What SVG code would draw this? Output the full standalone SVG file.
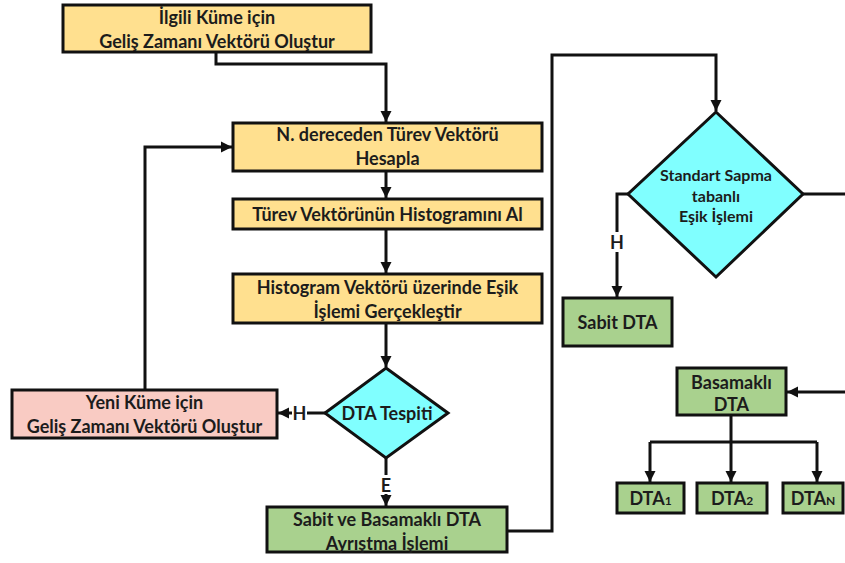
<svg xmlns="http://www.w3.org/2000/svg" width="845" height="563" viewBox="0 0 845 563">
  <style>
    .box { stroke: #111; stroke-width: 3; }
    .gold { fill: #FFE08F; }
    .pink { fill: #F9CBC3; }
    .green { fill: #A9D18E; }
    .cyan { fill: #80FFFF; }
    .lbl { font-family: "Lato", "Liberation Sans", sans-serif; font-weight: bold; font-size: 18px; fill: #1c1c1c; text-anchor: middle; dominant-baseline: central; }
    .small { font-size: 16px; }
    .sub { font-size: 12px; }
    .wire { fill: none; stroke: #111; stroke-width: 3; }
    .arrow { marker-end: url(#head); }
  </style>
  <defs>
    <marker id="head" markerUnits="userSpaceOnUse" markerWidth="12" markerHeight="12" viewBox="0 0 12 12" refX="11" refY="6" orient="auto">
      <path d="M0,0.5 L11,6 L0,11.5 Z" fill="#111"/>
    </marker>
  </defs>

  <!-- connectors -->
  <g id="connectors">
    <path class="wire arrow" d="M216,53 V64 H386 V122"/>
    <path class="wire arrow" d="M386,171 V198"/>
    <path class="wire arrow" d="M386,229 V273"/>
    <path class="wire arrow" d="M386,323 V367"/>
    <path class="wire" d="M325,413 H307"/>
    <path class="wire arrow" d="M292,413 H278"/>
    <text class="lbl" x="299.5" y="413">H</text>
    <path class="wire arrow" d="M145,390 V147 H232"/>
    <path class="wire" d="M386,458 V475"/>
    <text class="lbl" x="386" y="485">E</text>
    <path class="wire arrow" d="M386,494 V506"/>
    <path class="wire arrow" d="M507,531 H552 V55 H716 V111"/>
    <path class="wire" d="M628,194 H617 V232"/>
    <text class="lbl" x="617" y="242">H</text>
    <path class="wire arrow" d="M617,252 V297"/>
    <path class="wire" d="M803,194 H845"/>
    <path class="wire arrow" d="M845,392 H787"/>
    <path class="wire" d="M731,415 V442 M650,442 H817"/>
    <path class="wire arrow" d="M650,442 V482"/>
    <path class="wire arrow" d="M731,442 V482"/>
    <path class="wire arrow" d="M817,442 V482"/>
  </g>

  <!-- nodes -->
  <g id="vector-current">
    <rect class="box gold" x="63" y="5" width="308" height="47"/>
    <text class="lbl" x="217" y="17">İlgili Küme için</text>
    <text class="lbl" x="217" y="41">Geliş Zamanı Vektörü Oluştur</text>
  </g>
  <g id="derivative">
    <rect class="box gold" x="233" y="123" width="309" height="48"/>
    <text class="lbl" x="387.5" y="134">N. dereceden Türev Vektörü</text>
    <text class="lbl" x="387.5" y="158">Hesapla</text>
  </g>
  <g id="histogram">
    <rect class="box gold" x="233" y="199" width="309" height="30"/>
    <text class="lbl" x="387.5" y="214">Türev Vektörünün Histogramını Al</text>
  </g>
  <g id="threshold">
    <rect class="box gold" x="233" y="274" width="309" height="49"/>
    <text class="lbl" x="387.5" y="287">Histogram Vektörü üzerinde Eşik</text>
    <text class="lbl" x="387.5" y="311">İşlemi Gerçekleştir</text>
  </g>
  <g id="detect">
    <polygon class="box cyan" points="386,368 448,413 386,458 325,413"/>
    <text class="lbl" x="387" y="413">DTA Tespiti</text>
  </g>
  <g id="vector-new">
    <rect class="box pink" x="12" y="390" width="265" height="48"/>
    <text class="lbl" x="144.5" y="402">Yeni Küme için</text>
    <text class="lbl" x="144.5" y="426">Geliş Zamanı Vektörü Oluştur</text>
  </g>
  <g id="separation">
    <rect class="box green" x="267" y="507" width="240" height="45"/>
    <text class="lbl" x="387" y="519">Sabit ve Basamaklı DTA</text>
    <text class="lbl" x="387" y="543">Ayrıştma İşlemi</text>
  </g>
  <g id="std-threshold">
    <polygon class="box cyan" points="716,112 803,194 716,277 628,194"/>
    <text class="lbl small" x="716" y="174">Standart Sapma</text>
    <text class="lbl small" x="716" y="195">tabanlı</text>
    <text class="lbl small" x="716" y="215">Eşik İşlemi</text>
  </g>
  <g id="fixed">
    <rect class="box green" x="563" y="298" width="109" height="48"/>
    <text class="lbl" x="617.5" y="322">Sabit DTA</text>
  </g>
  <g id="stepped">
    <rect class="box green" x="677" y="368" width="109" height="47"/>
    <text class="lbl" x="731.5" y="382">Basamaklı</text>
    <text class="lbl" x="731.5" y="404">DTA</text>
  </g>
  <g id="dta1">
    <rect class="box green" x="617" y="483" width="67" height="30"/>
    <text class="lbl" x="650.5" y="498">DTA<tspan class="sub" dy="2">1</tspan></text>
  </g>
  <g id="dta2">
    <rect class="box green" x="697" y="483" width="70" height="30"/>
    <text class="lbl" x="732" y="498">DTA<tspan class="sub" dy="2">2</tspan></text>
  </g>
  <g id="dtan">
    <rect class="box green" x="783" y="483" width="60" height="30"/>
    <text class="lbl" x="813" y="498">DTA<tspan class="sub" dy="2">N</tspan></text>
  </g>
</svg>
